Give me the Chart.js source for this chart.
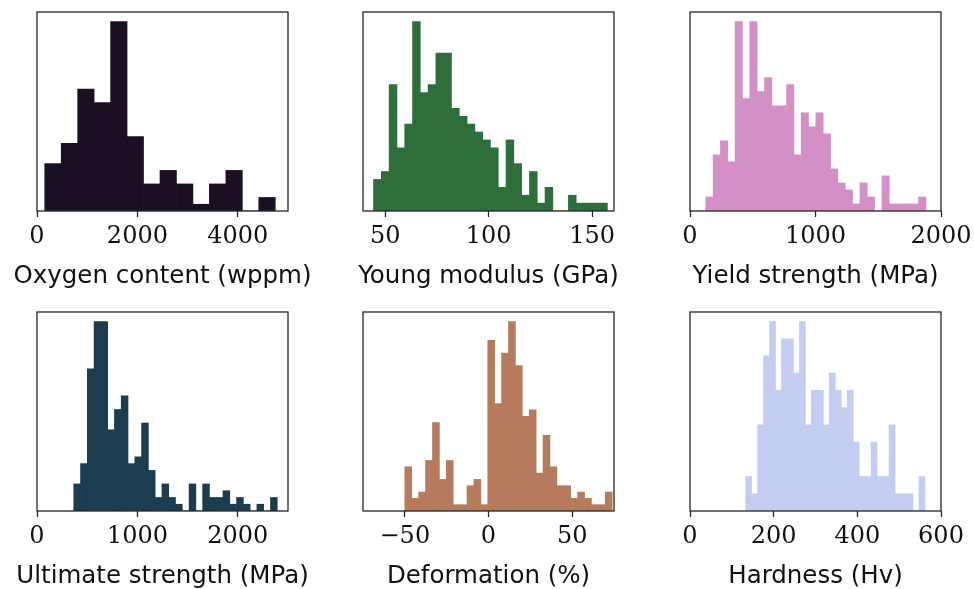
<!DOCTYPE html>
<html>
<head>
<meta charset="utf-8">
<script src="https://cdn.jsdelivr.net/npm/chart.js@4/dist/chart.umd.min.js"></script>
<style>
  html, body { margin: 0; padding: 0; background: #fff; overflow: hidden; }
  #wrap { position: relative; width: 974px; height: 589px; }
  canvas { position: absolute; }
</style>
</head>
<body>
<div id="wrap">
  <canvas id="c0" width="326" height="295" style="left:0px;top:0px"></canvas>
  <canvas id="c1" width="326" height="295" style="left:326px;top:0px"></canvas>
  <canvas id="c2" width="326" height="295" style="left:653px;top:0px"></canvas>
  <canvas id="c3" width="326" height="295" style="left:0px;top:300px"></canvas>
  <canvas id="c4" width="326" height="295" style="left:326px;top:300px"></canvas>
  <canvas id="c5" width="326" height="295" style="left:653px;top:300px"></canvas>
</div>
<script>
// counts per bin
const oxygenCounts = [7, 10, 18, 16, 28, 11, 4, 6, 4, 1, 4, 6, 0, 2];
const youngCounts = [4, 5, 16, 8, 11, 24, 15, 16, 20, 20, 13, 12, 11, 10, 9, 8, 3, 9, 6, 2, 5, 1, 3, 0, 0, 2, 1, 1, 1, 1];
const yieldCounts = [2, 8, 10, 7, 27, 16, 27, 17, 19, 15, 15, 18, 8, 14, 12, 14, 11, 6, 4, 3, 1, 4, 2, 0, 5, 1, 1, 1, 1, 2];
const ultimateCounts = [4, 7, 21, 28, 28, 12, 15, 17, 7, 8, 13, 6, 2, 4, 2, 1, 0, 4, 0, 4, 2, 2, 3, 1, 2, 1, 0, 1, 0, 2];
const deformCounts = [7, 2, 3, 8, 14, 5, 8, 1, 1, 4, 5, 1, 27, 17, 25, 30, 23, 15, 16, 6, 12, 7, 4, 4, 2, 3, 2, 1, 1, 3];
const hardnessCounts = [2, 1, 5, 9, 11, 7, 10, 10, 8, 11, 5, 7, 7, 5, 8, 7, 6, 7, 4, 2, 2, 4, 2, 2, 5, 1, 1, 1, 0, 2];

// first and last bin edge
const oxygenBins = [154, 4746];
const youngBins = [44.3, 157.4];
const yieldBins = [125.6, 1880];
const ultimateBins = [366, 2393];
const deformBins = [-50, 73.9];
const hardnessBins = [133, 561.6];

// axis limits and tick labels
const oxygenAxis = [0, 5000], oxygenTicks = [0, 2000, 4000];
const youngAxis = [39.2, 160.6], youngTicks = [50, 100, 150];
const yieldAxis = [0, 2000], yieldTicks = [0, 1000, 2000];
const ultimateAxis = [0, 2500], ultimateTicks = [0, 1000, 2000];
const deformAxis = [-75, 75], deformTicks = [-50, 0, 50];
const hardnessAxis = [0, 600], hardnessTicks = [0, 200, 400, 600];

const panels = [
  { id: 'c0', title: 'Oxygen content (wppm)', counts: oxygenCounts, bins: oxygenBins, axis: oxygenAxis, ticks: oxygenTicks, color: '#1b0f24' },
  { id: 'c1', title: 'Young modulus (GPa)', counts: youngCounts, bins: youngBins, axis: youngAxis, ticks: youngTicks, color: '#2d6e3b' },
  { id: 'c2', title: 'Yield strength (MPa)', counts: yieldCounts, bins: yieldBins, axis: yieldAxis, ticks: yieldTicks, color: '#d490c6' },
  { id: 'c3', title: 'Ultimate strength (MPa)', counts: ultimateCounts, bins: ultimateBins, axis: ultimateAxis, ticks: ultimateTicks, color: '#1b3d4f' },
  { id: 'c4', title: 'Deformation (%)', counts: deformCounts, bins: deformBins, axis: deformAxis, ticks: deformTicks, color: '#b67b5d' },
  { id: 'c5', title: 'Hardness (Hv)', counts: hardnessCounts, bins: hardnessBins, axis: hardnessAxis, ticks: hardnessTicks, color: '#c3cdf2' },
];

// box around the plot area, like the matplotlib spines, plus the x label
// (the scale title would get squeezed to the axis width)
const frame = {
  id: 'frame',
  afterDraw(chart, args, opts) {
    const a = chart.chartArea;
    const ctx = chart.ctx;
    ctx.save();
    ctx.strokeStyle = '#262626';
    ctx.lineWidth = 1.3;
    ctx.strokeRect(a.left, a.top, a.right - a.left, a.bottom - a.top);
    ctx.fillStyle = '#111';
    ctx.font = '24.5px "DejaVu Sans"';
    ctx.textAlign = 'center';
    ctx.textBaseline = 'middle';
    ctx.fillText(opts.text, (a.left + a.right) / 2, a.bottom + 66);
    ctx.restore();
  }
};

panels.forEach(p => {
  const w = (p.bins[1] - p.bins[0]) / p.counts.length;
  const points = p.counts.map((c, i) => ({ x: p.bins[0] + (i + 0.5) * w, y: c }));
  const top = Math.max(...p.counts) * 1.05;

  new Chart(document.getElementById(p.id).getContext('2d'), {
    type: 'bar',
    data: {
      datasets: [{
        data: points,
        backgroundColor: p.color,
        borderWidth: 0,
        barPercentage: 1,
        categoryPercentage: 1,
      }]
    },
    options: {
      responsive: false,
      animation: false,
      devicePixelRatio: 1,
      layout: { padding: { left: 37, right: 38, top: 12, bottom: 0 } },
      plugins: { legend: { display: false }, tooltip: { enabled: false }, frame: { text: p.title } },
      scales: {
        x: {
          type: 'linear',
          min: p.axis[0],
          max: p.axis[1],
          offset: false,
          afterBuildTicks: s => { s.ticks = p.ticks.map(v => ({ value: v })); },
          afterFit: s => { s.height = 84; },
          grid: { drawOnChartArea: false, drawTicks: true, tickLength: 6, tickWidth: 1.3, tickColor: '#262626', offset: false },
          border: { display: false },
          ticks: {
            autoSkip: false,
            maxRotation: 0,
            padding: 5,
            color: '#111',
            font: { family: 'DejaVu Serif', size: 24 },
            callback: v => String(v).replace('-', '\u2212'),
          },
          title: { display: false },
        },
        y: { display: false, min: 0, max: top },
      }
    },
    plugins: [frame]
  });
});
</script>
</body>
</html>
